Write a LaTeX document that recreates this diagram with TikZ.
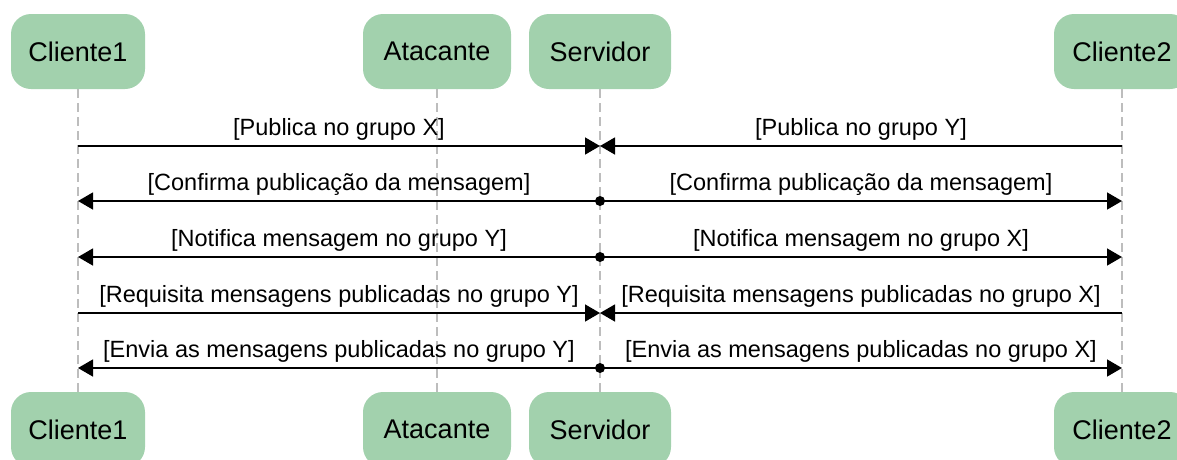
\documentclass[tikz,border=0pt]{standalone}
\usepackage{fontspec}
\setmainfont{Liberation Sans}
\usetikzlibrary{arrows.meta}
\definecolor{boxgreen}{HTML}{A2D1AD}
\definecolor{lifegray}{HTML}{BDBDBD}
\begin{document}
\begin{tikzpicture}[x=1pt,y=-1pt,
  actor/.style={fill=boxgreen, rounded corners=20pt, minimum height=75pt, inner sep=0pt,
    font=\fontsize{27}{31}\selectfont, text=black},
  life/.style={draw=lifegray, line width=1.3pt, dash pattern=on 9pt off 5pt},
  msg/.style={line width=1.5pt, -{Triangle[length=15pt,width=17pt]}},
  lbl/.style={font=\fontsize{23.5}{27}\selectfont, inner sep=0pt, above=5pt}
]
\useasboundingbox (0,0) rectangle (1177,459);
% actors top
\node[actor, minimum width=134pt] (c1t) at (78,51.5) {Cliente1};
\node[actor, minimum width=148pt] (att) at (437,51.5) {Atacante};
\node[actor, minimum width=142pt] (svt) at (600,51.5) {Servidor};
\node[actor, minimum width=136pt] (c2t) at (1122,51.5) {Cliente2};
% actors bottom
\node[actor, minimum width=134pt] (c1b) at (78,429.5) {Cliente1};
\node[actor, minimum width=148pt] (atb) at (437,429.5) {Atacante};
\node[actor, minimum width=142pt] (svb) at (600,429.5) {Servidor};
\node[actor, minimum width=136pt] (c2b) at (1122,429.5) {Cliente2};
% lifelines
\draw[life] (c1t.south) -- (c1b.north);
\draw[life] (att.south) -- (atb.north);
\draw[life] (svt.south) -- (svb.north);
\draw[life] (c2t.south) -- (c2b.north);
% message anchor coordinates
\foreach \r/\y in {1/146,2/201,3/257,4/313,5/368}{
  \coordinate (a\r) at (78,\y);
  \coordinate (s\r) at (600,\y);
  \coordinate (b\r) at (1122,\y);
}
% row 1
\draw[msg] (a1) -- node[lbl] {[Publica no grupo X]} (s1);
\draw[msg] (b1) -- node[lbl] {[Publica no grupo Y]} (s1);
% row 2
\draw[msg] (s2) -- node[lbl] {[Confirma publicação da mensagem]} (a2);
\draw[msg] (s2) -- node[lbl] {[Confirma publicação da mensagem]} (b2);
\fill (s2) circle (5pt);
% row 3
\draw[msg] (s3) -- node[lbl] {[Notifica mensagem no grupo Y]} (a3);
\draw[msg] (s3) -- node[lbl] {[Notifica mensagem no grupo X]} (b3);
\fill (s3) circle (5pt);
% row 4
\draw[msg] (a4) -- node[lbl] {[Requisita mensagens publicadas no grupo Y]} (s4);
\draw[msg] (b4) -- node[lbl] {[Requisita mensagens publicadas no grupo X]} (s4);
% row 5
\draw[msg] (s5) -- node[lbl] {[Envia as mensagens publicadas no grupo Y]} (a5);
\draw[msg] (s5) -- node[lbl] {[Envia as mensagens publicadas no grupo X]} (b5);
\fill (s5) circle (5pt);
\end{tikzpicture}
\end{document}
